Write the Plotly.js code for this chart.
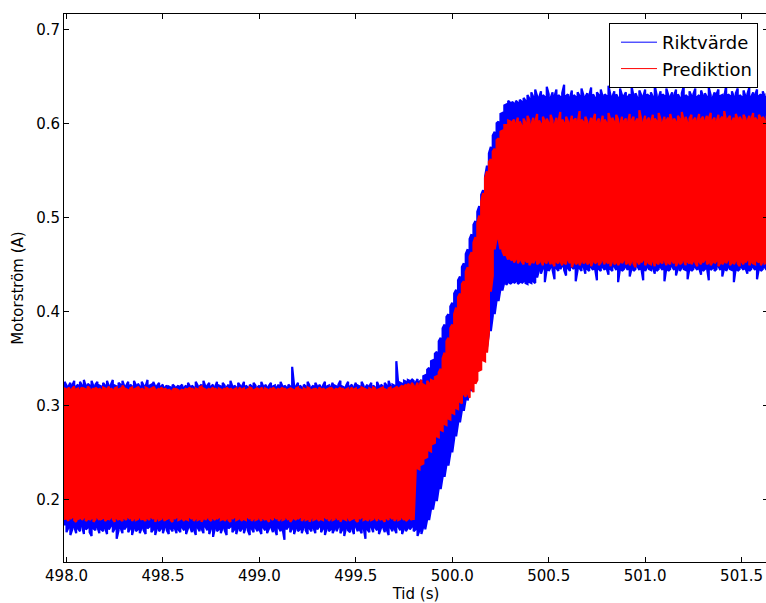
<!DOCTYPE html>
<html>
<head>
<meta charset="utf-8">
<script src="https://cdn.plot.ly/plotly-3.0.1.min.js"></script>
<style>
html,body{margin:0;padding:0;overflow:hidden;background:#fff;}
#chart{width:768px;height:603px;}
</style>
</head>
<body>
<div id="chart"></div>
<script>
// Sampling grid of the envelope readings (s)
const T_START = 497.99;
const T_STEP = 0.01;

// Riktvärde (setpoint) — upper and lower edge of the oscillation band
const rikt_hi = [
0.325,0.321,0.320,0.324,0.321,0.326,0.320,0.322,0.325,0.321,0.327,0.320,0.323,0.321,0.326,0.320,0.322,0.325,0.321,0.320,
0.324,0.321,0.326,0.320,0.322,0.327,0.321,0.320,0.324,0.322,0.326,0.320,0.321,0.325,0.322,0.320,0.326,0.321,0.323,0.320,
0.325,0.321,0.320,0.327,0.321,0.322,0.325,0.320,0.321,0.324,0.320,0.322,0.319,0.321,0.320,0.319,0.322,0.320,0.319,0.321,
0.320,0.322,0.319,0.321,0.324,0.320,0.321,0.319,0.325,0.321,0.320,0.322,0.326,0.320,0.321,0.324,0.320,0.322,0.319,0.325,
0.321,0.320,0.324,0.321,0.319,0.322,0.326,0.320,0.321,0.319,0.324,0.321,0.320,0.325,0.321,0.319,0.322,0.320,0.324,0.321,
0.319,0.321,0.325,0.320,0.322,0.319,0.321,0.324,0.320,0.321,0.319,0.322,0.325,0.320,0.321,0.319,0.322,0.320,0.341,0.321,
0.320,0.324,0.321,0.319,0.322,0.320,0.325,0.321,0.319,0.321,0.324,0.320,0.322,0.319,0.321,0.325,0.320,0.321,0.319,0.324,
0.321,0.320,0.322,0.326,0.320,0.319,0.321,0.325,0.320,0.322,0.319,0.324,0.321,0.320,0.325,0.321,0.319,0.322,0.320,0.324,
0.321,0.319,0.325,0.320,0.322,0.320,0.324,0.321,0.326,0.320,0.322,0.321,0.347,0.322,0.324,0.323,0.326,0.325,0.327,0.326,0.328,
0.326,0.324,0.328,0.325,0.327,0.331,0.332,0.338,0.340,0.347,
0.348,0.355,0.357,0.368,0.372,0.382,0.386,0.394,0.397,0.405,
0.409,0.419,0.423,0.433,0.437,0.447,0.451,0.461,0.466,0.477,
0.482,0.492,0.496,0.506,0.512,0.524,0.529,0.543,0.555,0.568,
0.575,0.587,0.591,0.600,0.602,0.610,0.611,0.619,0.620,0.624,
0.622,
0.623,0.621,0.624,0.622,0.625,0.623,0.627,0.624,0.630,0.626,0.633,0.628,0.636,0.629,0.627,0.634,0.630,0.628,0.639,0.631,
0.627,0.633,0.629,0.636,0.630,0.628,0.632,0.641,0.629,0.631,0.627,0.635,0.630,0.628,0.633,0.629,0.637,0.630,0.628,0.632,
0.629,0.638,0.631,0.627,0.633,0.630,0.636,0.628,0.631,0.629,0.640,0.630,0.628,0.634,0.631,0.627,0.637,0.630,0.629,0.633,
0.628,0.631,0.639,0.629,0.632,0.627,0.635,0.630,0.628,0.636,0.631,0.629,0.633,0.628,0.640,0.630,0.627,0.634,0.631,0.629,
0.637,0.630,0.628,0.633,0.629,0.636,0.631,0.627,0.632,0.639,0.630,0.628,0.634,0.629,0.631,0.637,0.628,0.630,0.635,0.629,
0.632,0.628,0.638,0.630,0.627,0.633,0.631,0.636,0.629,0.630,0.628,0.640,0.631,0.629,0.634,0.628,0.632,0.637,0.630,0.628,
0.635,0.629,0.631,0.638,0.628,0.633,0.630,0.636,0.629,0.631,0.634,0.628,0.632
];
const rikt_lo = [
0.172,0.165,0.170,0.162,0.168,0.171,0.164,0.169,0.166,0.172,0.163,0.168,0.170,0.165,0.161,0.169,0.167,0.171,0.164,0.168,
0.166,0.170,0.163,0.168,0.172,0.165,0.169,0.158,0.167,0.170,0.164,0.168,0.171,0.165,0.169,0.162,0.170,0.166,0.168,0.164,
0.170,0.167,0.163,0.169,0.171,0.165,0.168,0.162,0.170,0.166,0.169,0.164,0.171,0.167,0.163,0.169,0.166,0.170,0.164,0.168,
0.165,0.170,0.167,0.163,0.169,0.171,0.165,0.168,0.162,0.170,0.166,0.169,0.164,0.171,0.167,0.163,0.169,0.160,0.170,0.166,
0.168,0.164,0.170,0.167,0.162,0.169,0.171,0.165,0.168,0.163,0.170,0.166,0.169,0.164,0.171,0.167,0.162,0.169,0.165,0.170,
0.166,0.168,0.163,0.170,0.167,0.164,0.169,0.171,0.165,0.168,0.162,0.170,0.166,0.169,0.157,0.168,0.171,0.165,0.169,0.163,
0.170,0.166,0.168,0.164,0.171,0.167,0.163,0.169,0.166,0.170,0.164,0.168,0.171,0.165,0.169,0.162,0.170,0.166,0.168,0.164,
0.169,0.166,0.171,0.164,0.168,0.161,0.170,0.167,0.165,0.169,0.163,0.171,0.166,0.168,0.164,0.170,0.158,0.168,0.165,0.171,
0.165,0.170,0.167,0.163,0.169,0.171,0.165,0.168,0.162,0.170,0.166,0.169,0.164,0.171,0.167,0.163,0.169,0.166,0.170,0.168,0.171,
0.166,0.168,0.161,0.167,0.163,0.171,0.168,0.179,0.178,0.190,
0.189,0.201,0.198,0.212,0.211,0.224,0.224,0.237,0.236,0.249,
0.250,0.265,0.267,0.281,0.282,0.295,0.294,0.307,0.305,0.318,
0.315,0.326,0.325,0.338,0.337,0.350,0.349,0.362,0.362,0.377,
0.379,0.395,0.397,0.412,0.411,0.424,0.422,0.431,0.428,0.431,
0.429,
0.431,0.430,0.432,0.429,0.431,0.430,0.432,0.430,0.429,0.431,0.430,0.432,0.430,0.436,0.444,0.440,0.446,0.431,0.445,0.443,
0.447,0.444,0.434,0.446,0.443,0.445,0.448,0.444,0.438,0.446,0.443,0.447,0.445,0.432,0.444,0.446,0.443,0.448,0.440,0.445,
0.443,0.447,0.444,0.446,0.433,0.445,0.443,0.447,0.444,0.446,0.439,0.445,0.443,0.448,0.444,0.431,0.446,0.443,0.445,0.447,
0.444,0.437,0.446,0.443,0.445,0.448,0.444,0.446,0.433,0.443,0.447,0.445,0.444,0.446,0.440,0.443,0.445,0.447,0.444,0.432,
0.446,0.443,0.445,0.448,0.444,0.438,0.446,0.443,0.447,0.445,0.444,0.434,0.446,0.443,0.445,0.447,0.444,0.446,0.439,0.443,
0.445,0.447,0.433,0.444,0.446,0.443,0.445,0.448,0.444,0.437,0.446,0.443,0.447,0.445,0.444,0.431,0.446,0.443,0.445,0.447,
0.444,0.446,0.440,0.443,0.445,0.447,0.444,0.434,0.446,0.443,0.445,0.447,0.444
];

// Prediktion — upper and lower edge of the oscillation band
const pred_hi = [
0.318,0.317,0.319,0.316,0.318,0.320,0.317,0.318,0.316,0.319,0.318,0.317,0.320,0.318,0.316,0.318,0.319,0.317,0.318,0.316,
0.319,0.318,0.317,0.320,0.318,0.316,0.318,0.319,0.317,0.318,0.321,0.318,0.317,0.316,0.318,0.319,0.317,0.318,0.320,0.317,
0.318,0.316,0.319,0.318,0.317,0.318,0.320,0.317,0.316,0.318,0.319,0.317,0.318,0.316,0.317,0.315,0.316,0.318,0.317,0.316,
0.315,0.317,0.316,0.318,0.317,0.319,0.318,0.316,0.318,0.317,0.319,0.320,0.318,0.317,0.316,0.318,0.317,0.319,0.318,0.316,
0.318,0.317,0.316,0.318,0.319,0.317,0.318,0.316,0.317,0.318,0.316,0.319,0.317,0.318,0.316,0.317,0.319,0.318,0.316,0.317,
0.318,0.317,0.319,0.316,0.318,0.317,0.316,0.318,0.319,0.317,0.316,0.318,0.317,0.319,0.318,0.316,0.317,0.318,0.317,0.316,
0.318,0.319,0.317,0.316,0.318,0.317,0.319,0.318,0.316,0.317,0.318,0.316,0.319,0.317,0.318,0.316,0.317,0.318,0.319,0.317,
0.316,0.318,0.317,0.319,0.318,0.316,0.317,0.318,0.316,0.319,0.317,0.318,0.316,0.317,0.319,0.318,0.317,0.316,0.318,0.317,
0.319,0.318,0.316,0.317,0.318,0.319,0.317,0.316,0.318,0.319,0.317,0.318,0.320,0.318,0.319,0.321,0.320,0.322,0.323,0.321,0.324,
0.321,0.319,0.324,0.320,0.327,0.322,0.321,0.326,0.323,0.327,
0.326,0.330,0.331,0.335,0.339,0.350,0.356,0.368,0.372,0.382,
0.386,0.397,0.404,0.415,0.419,0.429,0.432,0.442,0.447,0.458,
0.463,0.473,0.479,0.494,0.502,0.517,0.526,0.542,0.549,0.559,
0.562,0.570,0.573,0.582,0.584,0.591,0.592,0.598,0.598,0.603,
0.602,
0.601,0.604,0.599,0.606,0.602,0.597,0.605,0.600,0.608,0.603,0.598,0.606,0.601,0.610,0.603,0.599,0.607,0.602,0.605,0.600,
0.609,0.603,0.598,0.606,0.601,0.612,0.604,0.600,0.607,0.602,0.599,0.608,0.603,0.605,0.600,0.613,0.604,0.601,0.607,0.602,
0.598,0.606,0.603,0.610,0.601,0.605,0.599,0.608,0.604,0.600,0.611,0.603,0.606,0.601,0.609,0.604,0.598,0.607,0.602,0.605,
0.600,0.610,0.603,0.607,0.601,0.605,0.614,0.604,0.600,0.608,0.603,0.606,0.601,0.609,0.605,0.602,0.611,0.604,0.600,0.607,
0.603,0.606,0.610,0.602,0.605,0.601,0.608,0.604,0.612,0.603,0.607,0.600,0.605,0.609,0.603,0.606,0.601,0.610,0.604,0.607,
0.602,0.608,0.605,0.611,0.603,0.606,0.601,0.609,0.604,0.607,0.613,0.603,0.605,0.608,0.602,0.606,0.610,0.604,0.607,0.603,
0.609,0.605,0.602,0.608,0.604,0.611,0.606,0.603,0.609,0.605,0.607,0.603,0.608
];
const pred_lo = [
0.178,0.180,0.177,0.179,0.181,0.178,0.176,0.179,0.180,0.178,0.181,0.177,0.179,0.178,0.180,0.176,0.179,0.181,0.178,0.179,
0.180,0.177,0.179,0.178,0.181,0.179,0.176,0.180,0.178,0.179,0.177,0.180,0.178,0.181,0.179,0.177,0.180,0.178,0.179,0.181,
0.178,0.179,0.177,0.180,0.178,0.181,0.179,0.176,0.180,0.178,0.179,0.181,0.177,0.179,0.180,0.178,0.176,0.179,0.181,0.178,
0.179,0.180,0.177,0.179,0.178,0.181,0.179,0.177,0.180,0.178,0.179,0.176,0.180,0.178,0.181,0.179,0.177,0.180,0.178,0.179,
0.181,0.178,0.179,0.177,0.180,0.178,0.176,0.179,0.181,0.178,0.179,0.180,0.177,0.179,0.178,0.181,0.179,0.177,0.180,0.178,
0.179,0.181,0.177,0.180,0.178,0.179,0.176,0.180,0.178,0.181,0.179,0.177,0.180,0.178,0.179,0.181,0.178,0.176,0.179,0.180,
0.178,0.179,0.181,0.177,0.180,0.178,0.179,0.176,0.181,0.178,0.179,0.180,0.177,0.179,0.178,0.181,0.179,0.177,0.180,0.178,
0.179,0.181,0.178,0.176,0.180,0.179,0.178,0.181,0.177,0.179,0.180,0.178,0.176,0.179,0.181,0.178,0.179,0.177,0.180,0.178,
0.179,0.181,0.177,0.180,0.178,0.179,0.176,0.180,0.178,0.181,0.179,0.177,0.180,0.178,0.179,0.181,0.178,0.177,0.179,0.180,0.178,
0.178,0.228,0.233,0.232,0.237,0.238,0.244,0.245,0.252,0.251,
0.259,0.260,0.267,0.266,0.274,0.273,0.280,0.279,0.286,0.285,
0.292,0.291,0.297,0.296,0.304,0.302,0.312,0.309,0.313,0.308,
0.319,0.314,0.323,0.327,0.337,0.338,0.348,0.347,0.356,0.378,
0.421,0.438,0.466,0.478,0.477,0.466,0.464,0.459,0.460,0.455,
0.456,
0.454,0.452,0.456,0.451,0.455,0.453,0.450,0.454,0.452,0.449,0.453,0.451,0.455,0.450,0.452,0.454,0.449,0.453,0.451,0.455,
0.450,0.452,0.448,0.453,0.451,0.454,0.449,0.452,0.450,0.455,0.451,0.447,0.453,0.450,0.452,0.449,0.454,0.451,0.453,0.450,
0.452,0.448,0.454,0.451,0.453,0.449,0.452,0.455,0.450,0.453,0.451,0.448,0.454,0.450,0.452,0.449,0.453,0.451,0.455,0.450,
0.452,0.449,0.454,0.451,0.447,0.453,0.450,0.452,0.455,0.449,0.453,0.451,0.450,0.454,0.448,0.452,0.450,0.453,0.451,0.455,
0.449,0.452,0.450,0.454,0.451,0.448,0.453,0.450,0.452,0.455,0.449,0.453,0.451,0.450,0.454,0.452,0.448,0.453,0.450,0.452,
0.455,0.450,0.452,0.449,0.453,0.451,0.454,0.448,0.452,0.450,0.453,0.451,0.455,0.449,0.452,0.450,0.454,0.451,0.448,0.453,
0.450,0.452,0.455,0.449,0.453,0.451,0.450,0.454,0.452,0.449,0.453,0.451,0.452
];

const series_names = ['Riktvärde', 'Prediktion'];
const series_colors = ['#0000ff', '#ff0000'];
const x_ticks = [498.0, 498.5, 499.0, 499.5, 500.0, 500.5, 501.0, 501.5];
const y_ticks = [0.2, 0.3, 0.4, 0.5, 0.6, 0.7];

const N = Math.min(rikt_hi.length, rikt_lo.length, pred_hi.length, pred_lo.length);
const time = Array.from({length: N}, (_, i) => +(T_START + T_STEP * i).toFixed(2));

// Dense oscillation: the line sweeps between the lower and upper edge at each sample
function sweep(lo, hi) {
  const xs = [], ys = [];
  for (let i = 0; i < N; i++) {
    xs.push(time[i], time[i]);
    if (i % 2 === 0) ys.push(lo[i], hi[i]); else ys.push(hi[i], lo[i]);
  }
  return {xs, ys};
}

const r = sweep(rikt_lo, rikt_hi);
const p = sweep(pred_lo, pred_hi);
const FONT = 'DejaVu Sans, Bitstream Vera Sans, sans-serif';

const traces = [
  {x: r.xs, y: r.ys, type: 'scatter', mode: 'lines', name: series_names[0], showlegend: false,
   line: {color: series_colors[0], width: 2.2, simplify: false}, hoverinfo: 'skip'},
  {x: p.xs, y: p.ys, type: 'scatter', mode: 'lines', name: series_names[1], showlegend: false,
   line: {color: series_colors[1], width: 2.2, simplify: false}, hoverinfo: 'skip'},
  {x: [null], y: [null], type: 'scatter', mode: 'lines', name: series_names[0],
   line: {color: series_colors[0], width: 1}},
  {x: [null], y: [null], type: 'scatter', mode: 'lines', name: series_names[1],
   line: {color: series_colors[1], width: 1}}
];

const axisCommon = {
  showgrid: false, zeroline: false, showline: true, linecolor: '#000', linewidth: 1,
  mirror: 'allticks', ticks: 'inside', ticklen: 5, tickwidth: 1, tickcolor: '#000',
  tickfont: {family: FONT, size: 15, color: '#000'}, tickformat: '.1f'
};

const layout = {
  width: 768, height: 603,
  margin: {l: 64, r: 0, t: 14, b: 41, pad: 0},
  paper_bgcolor: '#fff', plot_bgcolor: '#fff',
  font: {family: FONT, color: '#000'},
  xaxis: Object.assign({}, axisCommon, {
    range: [497.987, 501.637], tickmode: 'array', tickvals: x_ticks,
    title: {text: 'Tid (s)', font: {family: FONT, size: 15, color: '#000'}, standoff: 4}
  }),
  yaxis: Object.assign({}, axisCommon, {
    range: [0.1333, 0.7163], tickmode: 'array', tickvals: y_ticks,
    title: {text: 'Motorström (A)', font: {family: FONT, size: 15, color: '#000'}, standoff: 8}
  }),
  legend: {
    x: 0.9858, y: 0.9836, xanchor: 'right', yanchor: 'top',
    bgcolor: '#fff', bordercolor: '#000', borderwidth: 1,
    font: {family: FONT, size: 18, color: '#000'}, itemwidth: 36, indentation: 6
  },
  showlegend: true
};

Plotly.newPlot('chart', traces, layout, {staticPlot: true, displayModeBar: false});
</script>
</body>
</html>
